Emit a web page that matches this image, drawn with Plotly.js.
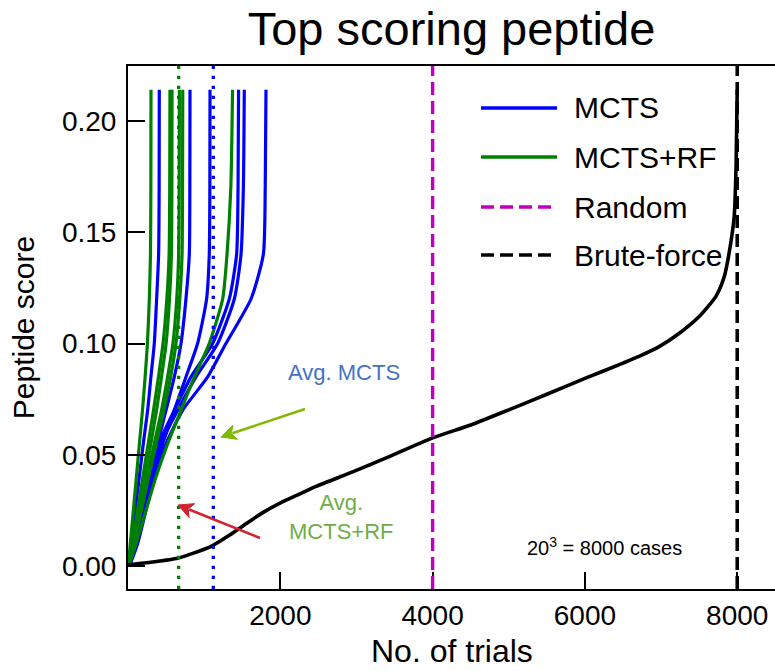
<!DOCTYPE html>
<html>
<head>
<meta charset="utf-8">
<script src="https://cdn.plot.ly/plotly-3.0.1.min.js"></script>
<style>html,body{margin:0;padding:0;background:#fff;}#chart{width:775px;height:671px;}</style>
</head>
<body>
<div id="chart"></div>
<script>
// ---- data ----
const scoreLevels = [0, 0.01, 0.025, 0.04, 0.055, 0.07, 0.085, 0.1, 0.12, 0.14, 0.17, 0.214];

const mcts1 = [5, 52, 96, 148, 201, 258, 301, 345, 376, 402, 409, 411];
const mcts2 = [8, 83, 184, 280, 389, 499, 608, 696, 761, 805, 812, 814];
const mcts3 = [10, 96, 214, 323, 455, 608, 761, 914, 1032, 1067, 1075, 1077];
const mcts4 = [12, 70, 170, 271, 402, 608, 827, 1111, 1330, 1426, 1445, 1452];
const mcts5 = [14, 83, 192, 301, 433, 652, 893, 1177, 1396, 1484, 1515, 1527];
const mcts6 = [20, 126, 236, 345, 499, 717, 1046, 1286, 1615, 1777, 1802, 1812];

const rf1 = [4, 30, 70, 110, 150, 190, 225, 255, 280, 295, 300, 302];
const rf2 = [6, 55, 125, 195, 265, 335, 400, 460, 510, 540, 548, 551];
const rf3 = [6, 60, 140, 220, 300, 375, 440, 500, 545, 570, 576, 578];
const rf4 = [7, 70, 160, 250, 345, 440, 520, 590, 640, 665, 672, 675];
const rf5 = [8, 75, 175, 270, 370, 470, 560, 630, 680, 710, 716, 719];
const rf6 = [10, 105, 236, 367, 521, 696, 871, 1067, 1243, 1300, 1350, 1373];

const bruteTrials = [0, 320, 650, 850, 1100, 1330, 1550, 1770, 1990, 2250, 2470, 2950, 3390, 4000, 4500, 5000, 5500, 6000, 6500, 6710, 6980, 7240, 7500, 7720, 7830, 7900, 7960, 7985, 8000];
const bruteScores = [0.0005, 0.0018, 0.0035, 0.0057, 0.0090, 0.0138, 0.0190, 0.0240, 0.0282, 0.0323, 0.0358, 0.0423, 0.0486, 0.0576, 0.0634, 0.0702, 0.0772, 0.0843, 0.0912, 0.0942, 0.0987, 0.1046, 0.1121, 0.1212, 0.1301, 0.142, 0.157, 0.18, 0.214];

const avgMCTS = 1120;
const avgMCTSRF = 665;
const randomTrials = 4000;
const bruteForceTrials = 8000;

const xTicks = [2000, 4000, 6000, 8000];
const yTicks = [0, 0.05, 0.10, 0.15, 0.20];
const yTickText = ['0.00', '0.05', '0.10', '0.15', '0.20'];
const legendLabels = ['MCTS', 'MCTS+RF', 'Random', 'Brute-force'];

// ---- styling ----
const FONT = '"Liberation Sans", Arial, sans-serif';
const BLUE = '#0000FF', GREEN = '#008000', MAG = '#BF00BF', BLACK = '#000000';

const mctsRuns = [mcts1, mcts2, mcts3, mcts4, mcts5, mcts6];
const rfRuns = [rf1, rf2, rf3, rf4, rf5, rf6];

const traces = [];
for (let i = 0; i < mctsRuns.length; i++) {
  traces.push({x: mctsRuns[i], y: scoreLevels, mode: 'lines', showlegend: false,
    line: {color: BLUE, width: 3.2, shape: 'spline', smoothing: 0.6}, hoverinfo: 'skip'});
  traces.push({x: rfRuns[i], y: scoreLevels, mode: 'lines', showlegend: false,
    line: {color: GREEN, width: 3.2, shape: 'spline', smoothing: 0.6}, hoverinfo: 'skip'});
}
traces.push({x: bruteTrials, y: bruteScores, mode: 'lines', showlegend: false,
  line: {color: BLACK, width: 3.6, shape: 'spline', smoothing: 0.6}, hoverinfo: 'skip'});

// plot-area pixel helpers for legend / arrow placement (decorations only)
const L = 128, T = 66, W = 647, H = 523;
const px = v => (v - L) / W;
const py = v => (T + H - v) / H;

const shapes = [
  {type: 'line', xref: 'x', yref: 'paper', x0: avgMCTSRF, x1: avgMCTSRF, y0: 0, y1: 1, line: {color: GREEN, width: 3.3, dash: '3.3px,6.7px'}},
  {type: 'line', xref: 'x', yref: 'paper', x0: avgMCTS, x1: avgMCTS, y0: 0, y1: 1, line: {color: BLUE, width: 3.3, dash: '3.3px,6.7px'}},
  {type: 'line', xref: 'x', yref: 'paper', x0: randomTrials, x1: randomTrials, y0: 0, y1: 1, line: {color: MAG, width: 3.4, dash: '13px,6px'}},
  {type: 'line', xref: 'x', yref: 'paper', x0: bruteForceTrials, x1: bruteForceTrials, y0: 0, y1: 1, line: {color: BLACK, width: 3.6, dash: '13px,6px'}}
];

// arrows (decorative pointers): shaft + triangular head
function arrow(tail, tip, color) {
  const dx = tip[0] - tail[0], dy = tip[1] - tail[1];
  const len = Math.hypot(dx, dy), ux = dx / len, uy = dy / len;
  const hl = 15, hw = 7.5;
  const bx = tip[0] - hl * ux, by = tip[1] - hl * uy;
  const nx = -uy, ny = ux;
  shapes.push({type: 'line', xref: 'paper', yref: 'paper', x0: px(tail[0]), y0: py(tail[1]), x1: px(bx + 3 * ux), y1: py(by + 3 * uy),
    line: {color: color, width: 2.6}});
  const p = [[tip[0], tip[1]], [bx + hw * nx, by + hw * ny], [bx + 4 * ux, by + 4 * uy], [bx - hw * nx, by - hw * ny]];
  shapes.push({type: 'path', xref: 'paper', yref: 'paper',
    path: 'M' + p.map(q => px(q[0]) + ',' + py(q[1])).join(' L') + ' Z',
    fillcolor: color, line: {color: color, width: 1}});
}
arrow([305, 409], [221, 437], '#7FBA00');
arrow([260, 538], [178, 505], '#D2232E');

const legendColors = [BLUE, GREEN, MAG, BLACK];
const legendDash = ['solid', 'solid', '13px,6px', '13px,6px'];
const legendRows = [108, 157, 207, 255];
const annotations = [];
for (let i = 0; i < legendLabels.length; i++) {
  shapes.push({type: 'line', xref: 'paper', yref: 'paper', x0: px(481), x1: px(557), y0: py(legendRows[i]), y1: py(legendRows[i]),
    line: {color: legendColors[i], width: 3.4, dash: legendDash[i]}});
  annotations.push({xref: 'paper', yref: 'paper', x: px(572), y: py(legendRows[i]), xanchor: 'left', yanchor: 'middle',
    text: legendLabels[i], showarrow: false, font: {family: FONT, size: 30, color: '#000'}});
}

annotations.push(
  {xref: 'x', yref: 'y', x: 2840, y: 0.0868, text: 'Avg. MCTS', showarrow: false,
   font: {family: FONT, size: 22, color: '#4472C4'}},
  {xref: 'x', yref: 'y', x: 2802, y: 0.0221, text: 'Avg.<br>MCTS+RF', showarrow: false,
   font: {family: FONT, size: 22, color: '#70AD47'}},
  {xref: 'x', yref: 'y', x: 6256, y: 0.0087, text: '20<sup>3</sup> = 8000 cases', showarrow: false,
   font: {family: FONT, size: 20, color: '#000'}},
  {xref: 'paper', yref: 'paper', x: px(452), y: py(671), xanchor: 'center', yanchor: 'bottom',
   text: 'No. of trials', showarrow: false, font: {family: FONT, size: 32, color: '#000'}}
);

const layout = {
  width: 775, height: 671,
  margin: {l: L, r: 0, t: T, b: 671 - T - H, pad: 0},
  paper_bgcolor: '#fff', plot_bgcolor: '#fff',
  showlegend: false,
  title: {text: 'Top scoring peptide', font: {family: FONT, size: 47, color: '#000'},
          xref: 'paper', x: 0.5, xanchor: 'center', yref: 'container', y: 0.957, yanchor: 'middle'},
  xaxis: {range: [0, 8496], tickvals: xTicks, ticktext: xTicks.map(String),
          ticks: 'inside', ticklen: 17, tickwidth: 2, tickcolor: '#000',
          showline: true, linewidth: 2, linecolor: '#000', mirror: true,
          showgrid: false, zeroline: false,
          tickfont: {family: FONT, size: 28, color: '#000'}},
  yaxis: {range: [-0.0103, 0.2247], tickvals: yTicks, ticktext: yTickText,
          ticks: 'inside', ticklen: 17, tickwidth: 2, tickcolor: '#000',
          showline: true, linewidth: 2, linecolor: '#000',
          showgrid: false, zeroline: false, ticklabelstandoff: 4,
          tickfont: {family: FONT, size: 28, color: '#000'},
          title: {text: 'Peptide score', font: {family: FONT, size: 30, color: '#000'}, standoff: 18}},
  shapes: shapes,
  annotations: annotations
};

Plotly.newPlot('chart', traces, layout, {staticPlot: true, displayModeBar: false});
</script>
</body>
</html>
